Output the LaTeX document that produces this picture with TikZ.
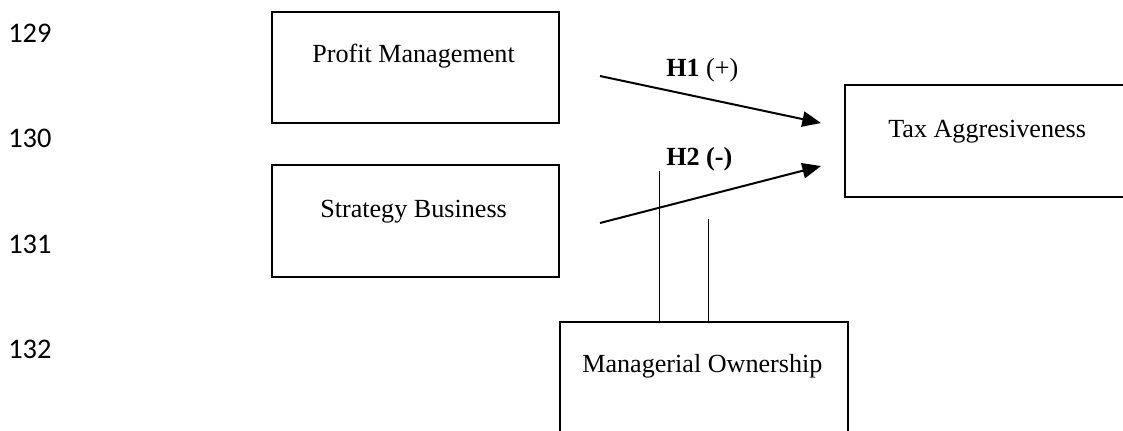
\documentclass[tikz,border=0pt]{standalone}
\usepackage{fontspec}
\setmainfont{Liberation Serif}
\newfontfamily\numfont{Carlito}
\usepackage{tikz}
\usetikzlibrary{shapes,arrows.meta,positioning,calc}

\begin{document}
\begin{tikzpicture}[
    x=0.75pt, y=-0.75pt,
    varbox/.style={rectangle, draw=black, line width=1.5pt, inner sep=0pt, outer sep=0pt},
    vartext/.style={anchor=base west, inner sep=0pt, font=\fontsize{19.6}{23}\selectfont},
    linenum/.style={anchor=base west, inner sep=0pt, font=\numfont\fontsize{21.3}{24}\selectfont},
    hyparrow/.style={line width=1.5pt, -{Triangle[length=14pt,width=11.5pt]}},
    modline/.style={line width=0.75pt},
]
    \useasboundingbox (0,0) rectangle (1123,430);

    % Line numbers
    \node[linenum] (n129) at (8,42) {129};
    \node[linenum] (n130) at (8,147) {130};
    \node[linenum] (n131) at (8,253) {131};
    \node[linenum] (n132) at (8,358) {132};

    % Variables
    \node[varbox, minimum width=215pt, minimum height=83pt] (pm) at (415.5,67.5) {};
    \node[vartext] (pm-text) at (312,62) {Profit Management};

    \node[varbox, minimum width=215pt, minimum height=84pt] (sb) at (415.5,221) {};
    \node[vartext] (sb-text) at (320,217) {Strategy Business};

    \node[varbox, minimum width=217.5pt, minimum height=84pt] (ta) at (990,141) {};
    \node[vartext] (ta-text) at (888,137) {Tax Aggresiveness};

    \node[varbox, minimum width=216pt, minimum height=88.5pt] (mo) at (704,381) {};
    \node[vartext] (mo-text) at (582,372) {Managerial Ownership};

    % Hypotheses
    \coordinate (pm-out) at (600,76);
    \coordinate (sb-out) at (600,223);
    \coordinate (ta-in1) at (821,123);
    \coordinate (ta-in2) at (821,166);
    \draw[hyparrow] (pm-out) -- (ta-in1);
    \draw[hyparrow] (sb-out) -- (ta-in2);

    \node[vartext] (h1) at (666,76) {\textbf{H1} (+)};
    \node[vartext] (h2) at (666,165) {\textbf{H2 (-)}};

    % Moderating lines
    \coordinate (mo-a) at (659,171);
    \coordinate (mo-b) at (708,219);
    \draw[modline] (mo-a) -- (mo-a |- mo.north);
    \draw[modline] (mo-b) -- (mo-b |- mo.north);
\end{tikzpicture}
\end{document}
